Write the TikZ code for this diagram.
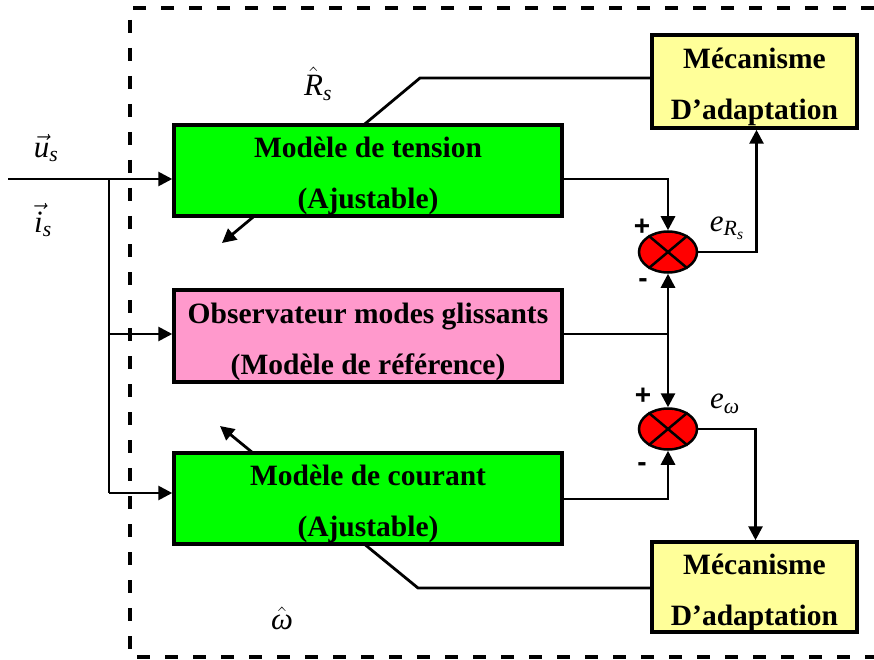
\RequirePackage{fix-cm}
\documentclass[tikz,border=0pt]{standalone}
\usepackage{amsmath}
\usepackage{fontspec}
\setmainfont{Liberation Serif}
\newfontfamily\sansb{Liberation Sans}
\usetikzlibrary{arrows.meta,shapes.geometric,backgrounds}
\definecolor{gr}{RGB}{0,255,0}
\definecolor{pk}{RGB}{255,153,204}
\definecolor{yl}{RGB}{255,255,153}
\definecolor{rd}{RGB}{255,0,0}
\newcommand{\upstrut}{\rule{0pt}{32pt}}
\newcommand{\ti}[1]{\text{\itshape #1}}
\tikzset{
  blk/.style={draw, line width=3.5pt, align=center, inner sep=0pt,
    font=\fontsize{29.5}{51}\selectfont\bfseries},
  conn/.style={line width=2.8pt},
  arr/.style={conn, -{Triangle[length=14pt,width=14pt]}},
  summer/.style={ellipse, draw, fill=rd, line width=2.5pt, minimum width=58pt, minimum height=41pt, inner sep=0pt},
  lbl/.style={font=\fontsize{31}{36}\selectfont, inner sep=0pt},
  sgn/.style={font=\sansb\bfseries\fontsize{28}{30}\selectfont, inner sep=0pt}
}
\begin{document}
\begin{tikzpicture}[x=1pt,y=-1pt]
\useasboundingbox (0,0) rectangle (874,660);
% dashed frame
\draw[line width=3.5pt, dash pattern=on 13pt off 15pt] (874,8) -- (130,8) -- (130,657) -- (874,657);
% blocks
\node[blk, fill=gr, minimum width=388pt, minimum height=91pt] (ten) at (368,170.5) {\upstrut Modèle de tension\\(Ajustable)};
\node[blk, fill=pk, minimum width=388pt, minimum height=92pt] (obs) at (368,336) {\upstrut Observateur modes glissants\\(Modèle de référence)};
\node[blk, fill=gr, minimum width=388pt, minimum height=91pt] (cou) at (368,498.5) {\upstrut Modèle de courant\\(Ajustable)};
\node[blk, fill=yl, minimum width=205pt, minimum height=93pt] (m1) at (754.5,81.5) {\upstrut Mécanisme\\D’adaptation};
\node[blk, fill=yl, minimum width=205pt, minimum height=90pt] (m2) at (754.5,587) {\upstrut Mécanisme\\D’adaptation};
% summers
\node[summer] (s1) at (668,252) {};
\node[summer] (s2) at (668,429) {};
\draw[line width=2.5pt] (s1.40) -- (s1.220) (s1.140) -- (s1.320);
\draw[line width=2.5pt] (s2.40) -- (s2.220) (s2.140) -- (s2.320);
% coordinates
\coordinate (in) at (8,179);
\coordinate (br1) at (109,179);
\coordinate (br2) at (109,334);
\coordinate (br3) at (109,493);
\coordinate (j) at (668,334);
\coordinate (k1) at (420,78);
\coordinate (t1) at (222,243);
\coordinate (k2) at (418,588);
\coordinate (t2) at (220,426);
% connectors
\draw[arr] (in) -- (in -| ten.west);
\draw[conn] (br1) -- (br3);
\draw[arr] (br2) -- (br2 -| obs.west);
\draw[arr] (br3) -- (br3 -| cou.west);
\draw[arr] (ten.east |- br1) -| (s1.north);
\draw[conn] (obs.east |- j) -- (j);
\draw[arr] (j) -- (s1.south);
\draw[arr] (j) -- (s2.north);
\draw[arr] (cou.east |- 0,499) -| (s2.south);
\draw[arr] (s1.east) -| ([xshift=2pt]m1.south);
\draw[arr] (s2.east) -| ([xshift=1pt]m2.north);
\begin{scope}[on background layer]
\draw[arr] (m1.west |- k1) -- (k1) -- (t1);
\draw[arr] (m2.west |- k2) -- (k2) -- (t2);
\end{scope}
% labels
\node[lbl] (lR) at (318,84) {$\hat{\ti{R}}_{\ti{s}}$};
\node[lbl] (lu) at (46,148) {$\vec{\ti{u}}_{\ti{s}}$};
\node[lbl] (li) at (43,220) {$\vec{\ti{i}}_{\ti{s}}$};
\node[lbl] (lw) at (282,618) {$\hat{\ti{ω}}$};
\node[lbl] (le1) at (727,228) {$\ti{e}_{\ti{R}_{\ti{s}}}$};
\node[lbl] (le2) at (725,404) {$\ti{e}_{\ti{ω}}$};
\node[sgn] (p1) at (642,227) {+};
\node[sgn] (n1) at (643,283) {-};
\node[sgn] (p2) at (643,396) {+};
\node[sgn] (n2) at (642,467) {-};
\end{tikzpicture}
\end{document}
